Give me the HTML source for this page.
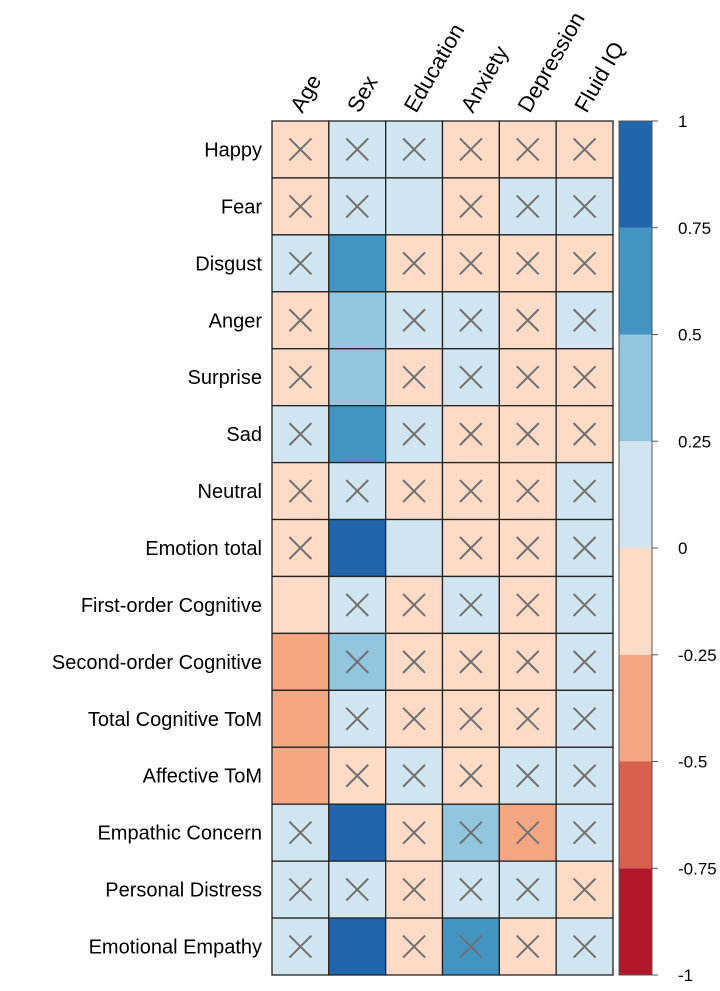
<!DOCTYPE html>
<html><head><meta charset="utf-8"><style>
body{margin:0;background:#fff;}
svg text{font-family:"Liberation Sans",Arial,sans-serif;}
</style></head><body>
<svg id="chart" width="720" height="986" xmlns="http://www.w3.org/2000/svg"></svg>
<script>
const rows=["Happy","Fear","Disgust","Anger","Surprise","Sad","Neutral","Emotion total","First-order Cognitive","Second-order Cognitive","Total Cognitive ToM","Affective ToM","Empathic Concern","Personal Distress","Emotional Empathy"];
const cols=["Age","Sex","Education","Anxiety","Depression","Fluid IQ"];
const values=[
[-0.1,0.1,0.1,-0.1,-0.1,-0.1],
[-0.1,0.1,0.1,-0.1,0.1,0.1],
[0.1,0.6,-0.1,-0.1,-0.1,-0.1],
[-0.1,0.4,0.1,0.1,-0.1,0.1],
[-0.1,0.4,-0.1,0.1,-0.1,-0.1],
[0.1,0.6,0.1,-0.1,-0.1,-0.1],
[-0.1,0.1,-0.1,-0.1,-0.1,0.1],
[-0.1,0.8,0.1,-0.1,-0.1,0.1],
[-0.1,0.1,-0.1,0.1,-0.1,0.1],
[-0.3,0.4,-0.1,-0.1,-0.1,0.1],
[-0.3,0.1,-0.1,-0.1,-0.1,0.1],
[-0.3,-0.1,0.1,-0.1,0.1,0.1],
[0.1,0.8,-0.1,0.4,-0.3,0.1],
[0.1,0.1,-0.1,0.1,0.1,-0.1],
[0.1,0.8,-0.1,0.6,-0.1,0.1]];
const nonsig=[
[1,1,1,1,1,1],[1,1,0,1,1,1],[1,0,1,1,1,1],[1,0,1,1,1,1],[1,0,1,1,1,1],
[1,0,1,1,1,1],[1,1,1,1,1,1],[1,0,0,1,1,1],[0,1,1,1,1,1],[0,1,1,1,1,1],
[0,1,1,1,1,1],[0,1,1,1,1,1],[1,0,1,1,1,1],[1,1,1,1,1,1],[1,0,1,1,1,1]];
const ticks=["1","0.75","0.5","0.25","0","-0.25","-0.5","-0.75","-1"];
const tickVals=[1,0.75,0.5,0.25,0,-0.25,-0.5,-0.75,-1];
const palette=["#B2182B","#D6604D","#F4A582","#FDDBC7","#D1E5F0","#92C5DE","#4393C3","#2166AC"];

const svg=document.getElementById('chart');
const NS="http://www.w3.org/2000/svg";
const X0=272,Y0=121,CW=(613-272)/cols.length,RH=(975-121)/rows.length;
const CBX=619,CBW=33,CBT=121,CBB=975;
const xPos=j=>X0+j*CW, yPos=i=>Y0+i*RH;
const cbY=v=>CBT+(1-v)/2*(CBB-CBT);
function color(v){let k=Math.floor((v+1)/2*8);if(k>7)k=7;if(k<0)k=0;return palette[k];}
function mk(t,a,p){const e=document.createElementNS(NS,t);for(const k in a)e.setAttribute(k,a[k]);(p||svg).appendChild(e);return e;}

for(let i=0;i<rows.length;i++){
  for(let j=0;j<cols.length;j++){
    const r=mk('rect',{x:xPos(j),y:yPos(i),width:CW,height:RH,fill:color(values[i][j]),stroke:'#222','stroke-width':1.3});
    
    
    if(nonsig[i][j]){
      const cx=xPos(j)+CW/2,cy=yPos(i)+RH/2,d=11;
      const g=mk('path',{d:`M${cx-d},${cy-d}L${cx+d},${cy+d}M${cx+d},${cy-d}L${cx-d},${cy+d}`,stroke:'#707070','stroke-width':2,fill:'none'});
      
      
    }
  }
  const t=mk('text',{x:262,y:yPos(i)+RH/2+7,'text-anchor':'end','font-size':20,fill:'#000'});
  t.textContent=rows[i];
  
  
}
for(let j=0;j<cols.length;j++){
  const x=xPos(j)+CW/2+2,y=Y0-7;
  const t=mk('text',{x:x,y:y,'font-size':22,fill:'#000',transform:`rotate(-60 ${x} ${y})`});
  t.textContent=cols[j];
  
  
}
for(let k=0;k<8;k++){
  const v=-1+k*0.25;
  const r=mk('rect',{x:CBX,y:cbY(v+0.25),width:CBW,height:cbY(v)-cbY(v+0.25),fill:palette[k]});
  
  
}
const cbo=mk('rect',{x:CBX,y:CBT,width:CBW,height:CBB-CBT,fill:'none',stroke:'#555','stroke-width':1});


for(let k=0;k<ticks.length;k++){
  const y=cbY(tickVals[k]);
  const l=mk('line',{x1:CBX+CBW,x2:CBX+CBW+6,y1:y,y2:y,stroke:'#555','stroke-width':1});
  
  
  const t=mk('text',{x:678,y:y+6,'font-size':17,fill:'#000'});
  t.textContent=ticks[k];
  
  
}
</script>
</body></html>
